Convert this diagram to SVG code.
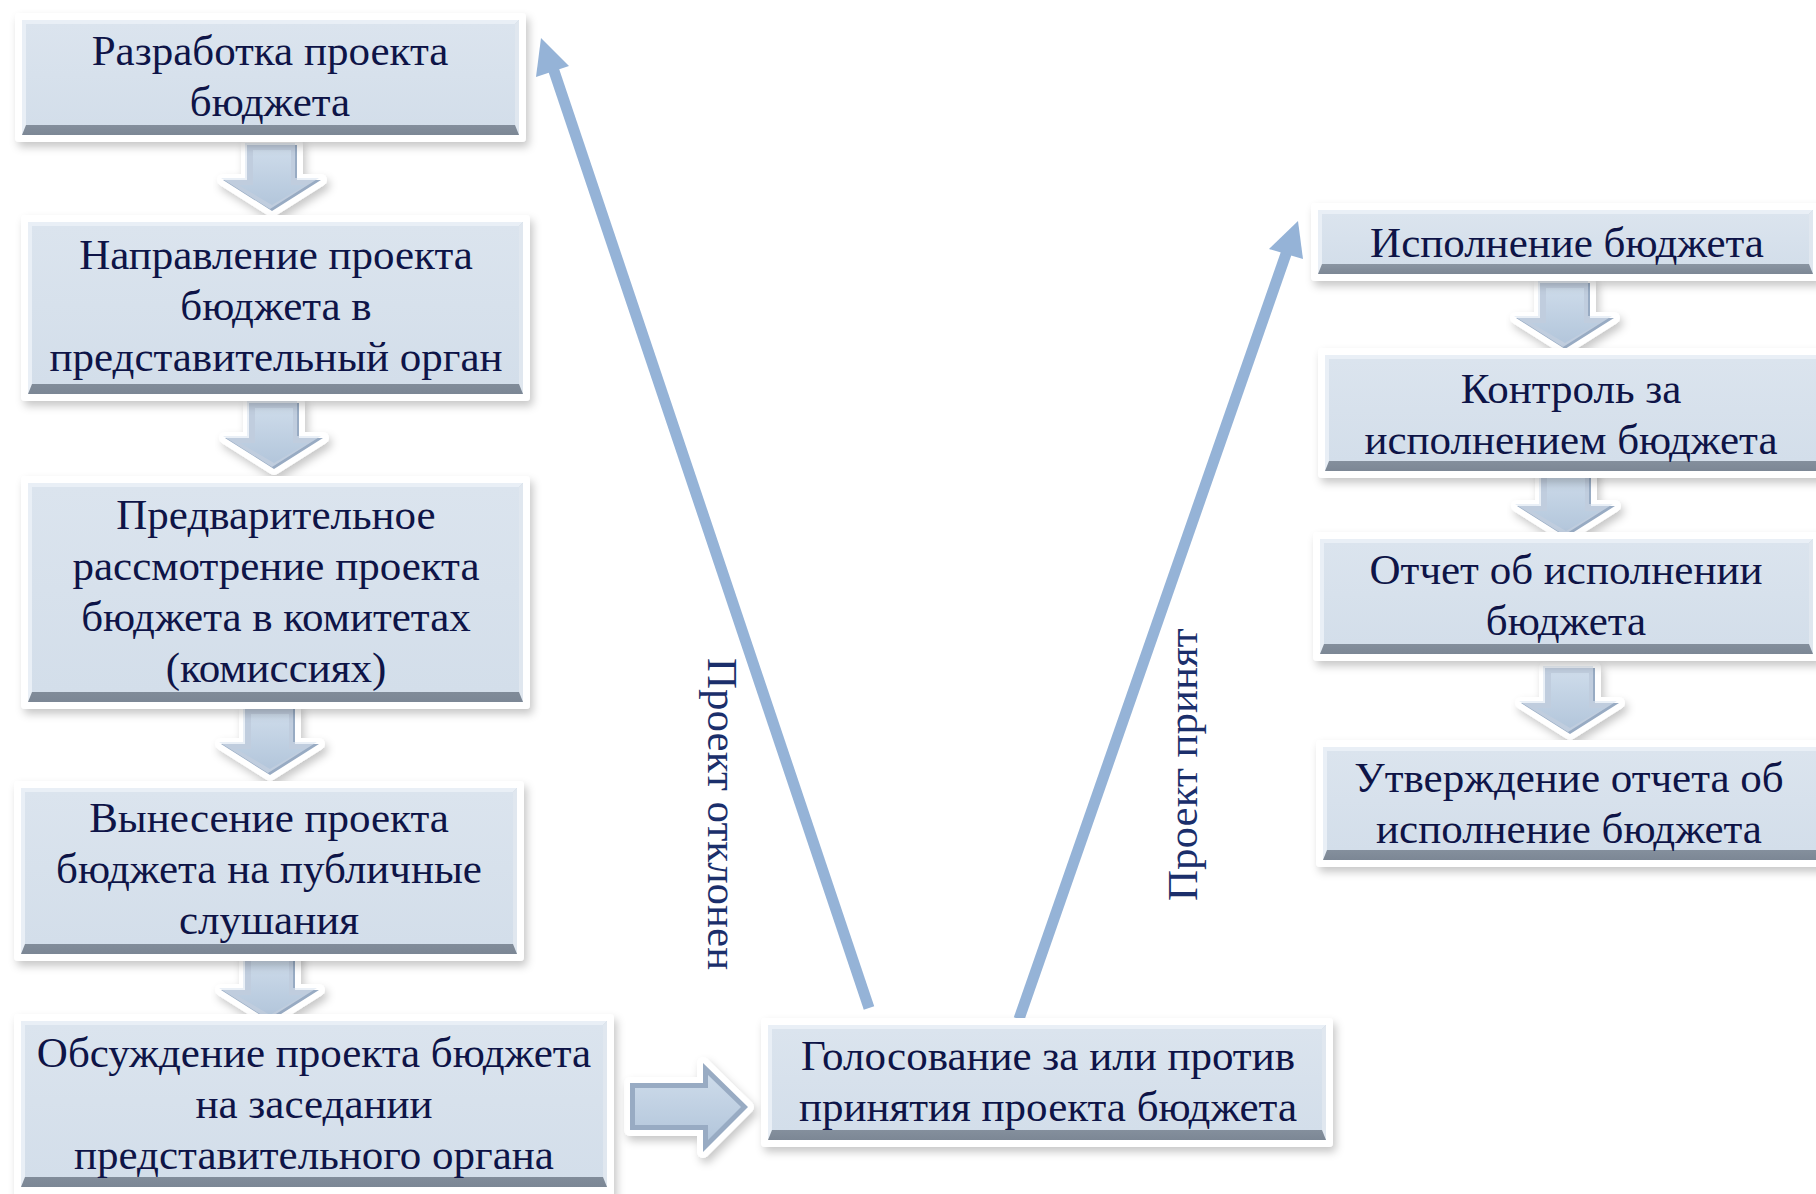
<svg xmlns="http://www.w3.org/2000/svg" width="1816" height="1194" viewBox="0 0 1816 1194">
<defs>
<filter id="sh" x="-10%" y="-10%" width="130%" height="140%">
<feDropShadow dx="3" dy="5" stdDeviation="4" flood-color="#000" flood-opacity="0.22"/>
</filter>
<linearGradient id="face" x1="0" y1="0" x2="0" y2="1">
<stop offset="0" stop-color="#dbe4ee"/>
<stop offset="1" stop-color="#d3deea"/>
</linearGradient>
<linearGradient id="bot" x1="0" y1="0" x2="0" y2="1">
<stop offset="0" stop-color="#c9d2dc"/>
<stop offset="0.85" stop-color="#8a95a2"/>
<stop offset="1" stop-color="#7c8795"/>
</linearGradient>
<linearGradient id="arr" x1="0" y1="0" x2="0" y2="1">
<stop offset="0" stop-color="#cddbea"/>
<stop offset="1" stop-color="#b3c6db"/>
</linearGradient>
<g id="down">
<path d="M -25 0 H 25 V 35 H 49 L 0 66 L -49 35 H -25 Z" fill="#fff" stroke="#fff" stroke-width="12" stroke-linejoin="round" filter="url(#sh)"/>
<path d="M -25 0 H 25 V 35 H 49 L 0 66 L -49 35 H -25 Z" fill="#98abc3"/>
<path d="M -25 0 H 25 V 35 H 49 L 0 66 L -49 35 H -25 Z" fill="#dbe5f0" transform="translate(-2,-2)" opacity="0.6"/>
<path d="M -19 5 H 19 V 40 H 34 L 0 60 L -34 40 H -19 Z" fill="url(#arr)"/>
</g>
</defs>
<style>
.frame{fill:#fff;filter:url(#sh)}
.light{fill:#e9eff6}
.dark{fill:url(#bot)}
.side{fill:#e0e7ef}
.face{fill:url(#face)}
.t{font-family:"Liberation Serif","Times New Roman",serif;font-size:43px;fill:#0e1447;text-anchor:middle}
.v{font-family:"Liberation Serif","Times New Roman",serif;font-size:43px;fill:#1b2f6b}
.ln{stroke:#95b3d7;stroke-width:11;fill:none}
.hd{fill:#95b3d7}
</style>

<g id="connectors">
<use href="#down" x="272" y="145"/>
<use href="#down" x="274" y="403"/>
<use href="#down" x="270" y="709"/>
<use href="#down" x="270" y="955"/>
<use href="#down" x="1565" y="283"/>
<use href="#down" x="1566" y="471"/>
<use href="#down" x="1570" y="668"/>
<g id="right-arrow">
<path d="M 630 1083 H 703 V 1063 L 748 1107 L 703 1152 V 1130 H 630 Z" fill="#fff" stroke="#fff" stroke-width="12" stroke-linejoin="round" filter="url(#sh)"/>
<path d="M 630 1083 H 703 V 1063 L 748 1107 L 703 1152 V 1130 H 630 Z" fill="#98abc3"/>
<path d="M 635 1088 H 708 V 1075 L 741 1107 L 708 1140 V 1125 H 635 Z" fill="url(#arr)"/>
</g>
<g id="rejected">
<line class="ln" x1="869" y1="1008" x2="553" y2="68"/>
<polygon class="hd" points="541,38 569,66 536,77"/>
</g>
<g id="accepted">
<line class="ln" x1="1019" y1="1019" x2="1287" y2="251"/>
<polygon class="hd" points="1298,221 1303,259 1269,249"/>
</g>
<text class="v" transform="translate(708 658) rotate(90)">Проект отклонен</text>
<text class="v" transform="translate(1197 901) rotate(-90)">Проект принят</text>
</g>

<g id="n1">
<rect class="frame" x="15" y="13" width="511" height="129" rx="4"/>
<rect class="dark" x="22" y="20" width="497" height="115"/>
<polygon class="light" points="22,20 519,20 515,24 26,24 26,125 22,135"/>
<polygon class="side" points="519,20 519,135 515,125 515,24"/>
<rect class="face" x="26" y="24" width="489" height="101"/>
<text class="t" x="270" y="65">Разработка проекта</text>
<text class="t" x="270" y="116">бюджета</text>
</g>

<g id="n2">
<rect class="frame" x="21" y="215" width="509" height="186" rx="4"/>
<rect class="dark" x="28" y="222" width="495" height="172"/>
<polygon class="light" points="28,222 523,222 519,226 32,226 32,384 28,394"/>
<polygon class="side" points="523,222 523,394 519,384 519,226"/>
<rect class="face" x="32" y="226" width="487" height="158"/>
<text class="t" x="276" y="269">Направление проекта</text>
<text class="t" x="276" y="320">бюджета в</text>
<text class="t" x="276" y="371">представительный орган</text>
</g>

<g id="n3">
<rect class="frame" x="21" y="476" width="509" height="233" rx="4"/>
<rect class="dark" x="28" y="483" width="495" height="219"/>
<polygon class="light" points="28,483 523,483 519,487 32,487 32,692 28,702"/>
<polygon class="side" points="523,483 523,702 519,692 519,487"/>
<rect class="face" x="32" y="487" width="487" height="205"/>
<text class="t" x="276" y="529">Предварительное</text>
<text class="t" x="276" y="580">рассмотрение проекта</text>
<text class="t" x="276" y="631">бюджета в комитетах</text>
<text class="t" x="276" y="682">(комиссиях)</text>
</g>

<g id="n4">
<rect class="frame" x="14" y="781" width="510" height="180" rx="4"/>
<rect class="dark" x="21" y="788" width="496" height="166"/>
<polygon class="light" points="21,788 517,788 513,792 25,792 25,944 21,954"/>
<polygon class="side" points="517,788 517,954 513,944 513,792"/>
<rect class="face" x="25" y="792" width="488" height="152"/>
<text class="t" x="269" y="832">Вынесение проекта</text>
<text class="t" x="269" y="883">бюджета на публичные</text>
<text class="t" x="269" y="934">слушания</text>
</g>

<g id="n5">
<rect class="frame" x="14" y="1014" width="600" height="185" rx="4"/>
<rect class="dark" x="21" y="1021" width="586" height="166"/>
<polygon class="light" points="21,1021 607,1021 603,1025 25,1025 25,1177 21,1187"/>
<polygon class="side" points="607,1021 607,1187 603,1177 603,1025"/>
<rect class="face" x="25" y="1025" width="578" height="152"/>
<text class="t" x="314" y="1067">Обсуждение проекта бюджета</text>
<text class="t" x="314" y="1118">на заседании</text>
<text class="t" x="314" y="1169">представительного органа</text>
</g>

<g id="n6">
<rect class="frame" x="761" y="1018" width="572" height="129" rx="4"/>
<rect class="dark" x="768" y="1025" width="558" height="115"/>
<polygon class="light" points="768,1025 1326,1025 1322,1029 772,1029 772,1130 768,1140"/>
<polygon class="side" points="1326,1025 1326,1140 1322,1130 1322,1029"/>
<rect class="face" x="772" y="1029" width="550" height="101"/>
<text class="t" x="1048" y="1070">Голосование за или против</text>
<text class="t" x="1048" y="1121">принятия проекта бюджета</text>
</g>

<g id="n7">
<rect class="frame" x="1311" y="203" width="509" height="78" rx="4"/>
<rect class="dark" x="1318" y="210" width="495" height="64"/>
<polygon class="light" points="1318,210 1813,210 1809,214 1322,214 1322,264 1318,274"/>
<polygon class="side" points="1813,210 1813,274 1809,264 1809,214"/>
<rect class="face" x="1322" y="214" width="487" height="50"/>
<text class="t" x="1567" y="257">Исполнение бюджета</text>
</g>

<g id="n8">
<rect class="frame" x="1318" y="348" width="514" height="130" rx="4"/>
<rect class="dark" x="1325" y="355" width="500" height="116"/>
<polygon class="light" points="1325,355 1825,355 1821,359 1329,359 1329,461 1325,471"/>
<rect class="face" x="1329" y="359" width="496" height="102"/>
<text class="t" x="1571" y="403">Контроль за</text>
<text class="t" x="1571" y="454">исполнением бюджета</text>
</g>

<g id="n9">
<rect class="frame" x="1313" y="532" width="507" height="129" rx="4"/>
<rect class="dark" x="1320" y="539" width="493" height="115"/>
<polygon class="light" points="1320,539 1813,539 1809,543 1324,543 1324,644 1320,654"/>
<polygon class="side" points="1813,539 1813,654 1809,644 1809,543"/>
<rect class="face" x="1324" y="543" width="485" height="101"/>
<text class="t" x="1566" y="584">Отчет об исполнении</text>
<text class="t" x="1566" y="635">бюджета</text>
</g>

<g id="n10">
<rect class="frame" x="1316" y="740" width="516" height="127" rx="4"/>
<rect class="dark" x="1323" y="747" width="500" height="113"/>
<polygon class="light" points="1323,747 1823,747 1819,751 1327,751 1327,850 1323,860"/>
<rect class="face" x="1327" y="751" width="496" height="99"/>
<text class="t" x="1569" y="792">Утверждение отчета об</text>
<text class="t" x="1569" y="843">исполнение бюджета</text>
</g>
</svg>
